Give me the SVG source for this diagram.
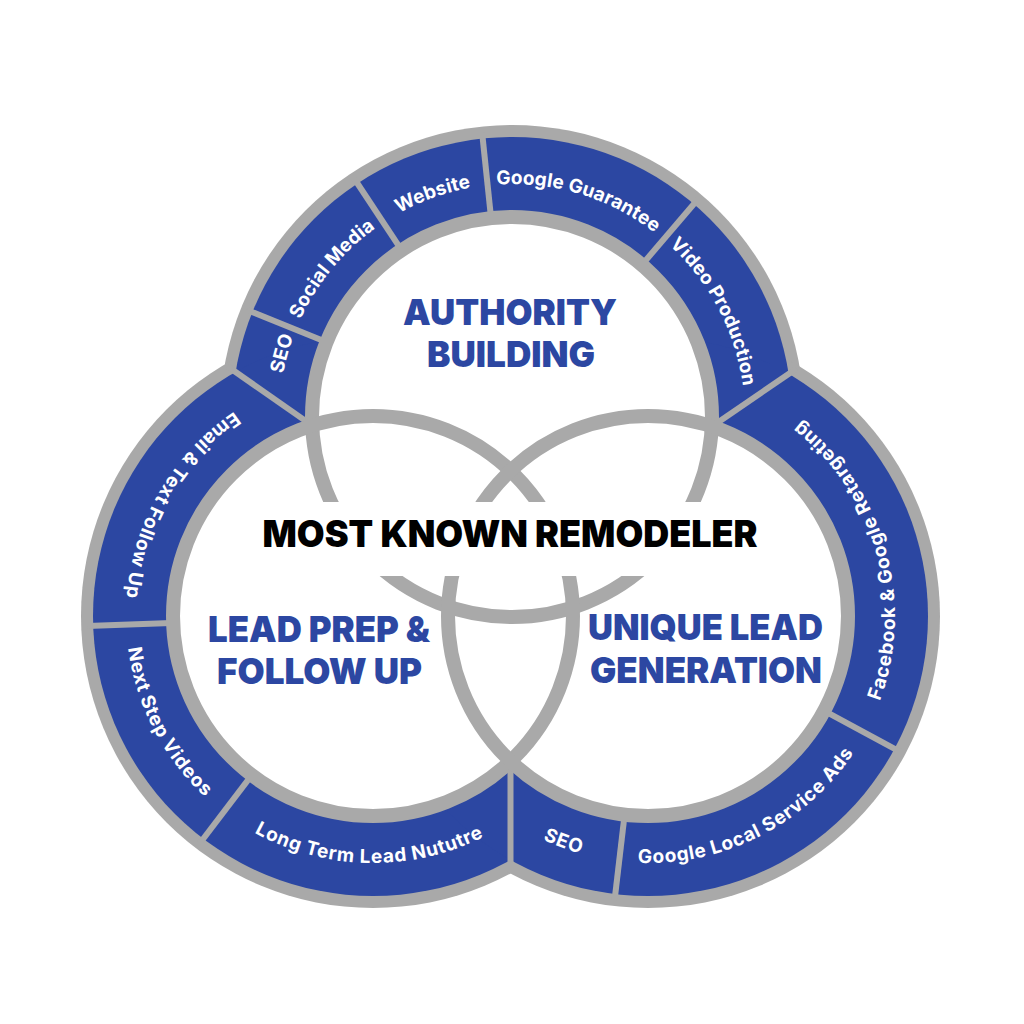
<svg xmlns="http://www.w3.org/2000/svg" width="1024" height="1024" viewBox="0 0 1024 1024">
<style>
.outer{fill:#A9A9A9}
.band{fill:#2C47A2}
.sep{stroke:#A9A9A9;stroke-width:6;stroke-linecap:butt}
.core{fill:#FFFFFF}
.ring{fill:none;stroke:#A9A9A9;stroke-width:14}
.lbl{font-family:Inter,"Noto Sans","DejaVu Sans",sans-serif;font-weight:700;font-size:19px;letter-spacing:0.4px;fill:#FFFFFF;dominant-baseline:central}
.title{font-family:Inter,"Noto Sans","DejaVu Sans",sans-serif;font-weight:900;font-size:36px;fill:#2C47A2;text-anchor:middle}
.main{font-family:Inter,"Noto Sans","DejaVu Sans",sans-serif;font-weight:900;font-size:37px;fill:#000000;text-anchor:middle}
</style>
<defs>
<path id="p-seo1" d="M314.2,552.9 A240,240 0 0 1 412.5,198.6"/>
<path id="p-social" d="M276.0,460.7 A240,240 0 0 1 509.9,177.0"/>
<path id="p-web" d="M287.2,333.0 A240,240 0 0 1 633.8,210.2"/>
<path id="p-gg" d="M381.3,215.7 A240,240 0 0 1 732.9,323.2"/>
<path id="p-video" d="M563.9,182.7 A240,240 0 0 1 733.7,508.8"/>
<path id="p-email" d="M331.3,379.6 A240,240 0 0 0 147.5,698.1"/>
<path id="p-next" d="M151.6,523.4 A240,240 0 0 0 320.2,850.1"/>
<path id="p-long" d="M186.5,767.0 A240,240 0 0 0 554.1,773.5"/>
<path id="p-fb" d="M820.6,782.7 A240,240 0 0 0 706.1,383.1"/>
<path id="p-glsa" d="M554.2,836.9 A240,240 0 0 0 881.9,670.0"/>
<path id="p-seo2" d="M421.8,696.1 A240,240 0 0 0 766.2,824.9"/>
</defs>
<rect x="0" y="0" width="1024" height="1024" fill="#FFFFFF"/>
<g id="outline">
<circle class="outer" cx="512" cy="417" r="292"/>
<circle class="outer" cx="373" cy="616" r="292"/>
<circle class="outer" cx="648" cy="616" r="292"/>
</g>
<g id="bands">
<circle class="band" cx="512" cy="417" r="280"/>
<circle class="band" cx="373" cy="616" r="280"/>
<circle class="band" cx="648" cy="616" r="280"/>
</g>
<g id="connectors">
<line class="sep" x1="319.5" y1="430.6" x2="227.7" y2="366.5"/>
<line class="sep" x1="703.9" y1="431.9" x2="796.3" y2="368.7"/>
<line class="sep" x1="510.5" y1="756" x2="510.5" y2="870"/>
<line class="sep" x1="331.2" y1="344.0" x2="246.8" y2="309.9"/>
<line class="sep" x1="404.4" y1="254.4" x2="354.2" y2="178.5"/>
<line class="sep" x1="491.6" y1="223.1" x2="482.1" y2="132.6"/>
<line class="sep" x1="638.6" y1="268.7" x2="697.7" y2="199.5"/>
<line class="sep" x1="178.1" y1="622.8" x2="87.2" y2="626.0"/>
<line class="sep" x1="254.8" y1="771.1" x2="199.7" y2="843.5"/>
<line class="sep" x1="819.7" y1="708.4" x2="899.8" y2="751.6"/>
<line class="sep" x1="625.2" y1="809.7" x2="614.6" y2="900.1"/>
</g>
<g id="circles">
<circle class="core" cx="512" cy="417" r="200"/>
<circle class="core" cx="373" cy="616" r="200"/>
<circle class="core" cx="648" cy="616" r="200"/>
<circle class="ring" cx="512" cy="417" r="200"/>
<circle class="ring" cx="373" cy="616" r="200"/>
<circle class="ring" cx="648" cy="616" r="200"/>
</g>
<g id="center">
<rect x="255" y="502" width="513" height="74" fill="#FFFFFF"/>
<text class="main" x="510" y="547" textLength="495" lengthAdjust="spacingAndGlyphs">MOST KNOWN REMODELER</text>
</g>
<g id="authority-building">
<text class="title" x="510" y="325" textLength="214" lengthAdjust="spacingAndGlyphs">AUTHORITY</text>
<text class="title" x="511" y="367" textLength="168" lengthAdjust="spacingAndGlyphs">BUILDING</text>
</g>
<g id="lead-prep">
<text class="title" x="319" y="642" textLength="222" lengthAdjust="spacingAndGlyphs">LEAD PREP &amp;</text>
<text class="title" x="319.5" y="684" textLength="205" lengthAdjust="spacingAndGlyphs">FOLLOW UP</text>
</g>
<g id="unique-lead">
<text class="title" x="705.5" y="640" textLength="235" lengthAdjust="spacingAndGlyphs">UNIQUE LEAD</text>
<text class="title" x="706" y="683" textLength="232" lengthAdjust="spacingAndGlyphs">GENERATION</text>
</g>
<g id="seg-seo-top"><text class="lbl"><textPath href="#p-seo1" startOffset="50%" text-anchor="middle">SEO</textPath></text></g>
<g id="seg-social"><text class="lbl"><textPath href="#p-social" startOffset="50%" text-anchor="middle">Social Media</textPath></text></g>
<g id="seg-website"><text class="lbl"><textPath href="#p-web" startOffset="50%" text-anchor="middle">Website</textPath></text></g>
<g id="seg-gg"><text class="lbl"><textPath href="#p-gg" startOffset="50%" text-anchor="middle">Google Guarantee</textPath></text></g>
<g id="seg-video"><text class="lbl"><textPath href="#p-video" startOffset="50%" text-anchor="middle">Video Production</textPath></text></g>
<g id="seg-email"><text class="lbl"><textPath href="#p-email" startOffset="50%" text-anchor="middle">Email &amp; Text Follow Up</textPath></text></g>
<g id="seg-next"><text class="lbl"><textPath href="#p-next" startOffset="50%" text-anchor="middle">Next Step Videos</textPath></text></g>
<g id="seg-long"><text class="lbl"><textPath href="#p-long" startOffset="50%" text-anchor="middle">Long Term Lead Nututre</textPath></text></g>
<g id="seg-fb"><text class="lbl"><textPath href="#p-fb" startOffset="50%" text-anchor="middle">Facebook &amp; Google Retargeting</textPath></text></g>
<g id="seg-glsa"><text class="lbl"><textPath href="#p-glsa" startOffset="50%" text-anchor="middle">Google Local Service Ads</textPath></text></g>
<g id="seg-seo-bottom"><text class="lbl"><textPath href="#p-seo2" startOffset="50%" text-anchor="middle">SEO</textPath></text></g>
</svg>
